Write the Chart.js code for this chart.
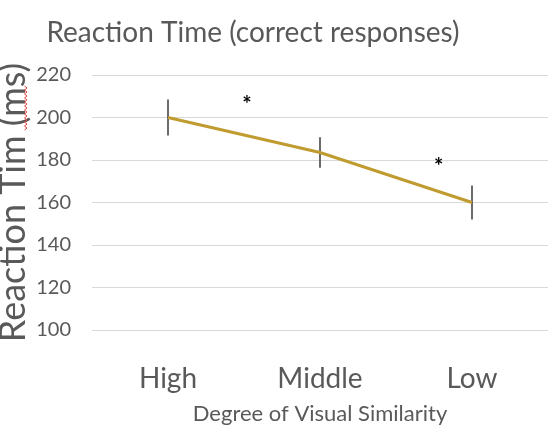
<!DOCTYPE html>
<html>
<head>
<meta charset="utf-8">
<script src="https://cdn.jsdelivr.net/npm/chart.js@4.4.1/dist/chart.umd.min.js"></script>
<style>
    html, body { margin: 0; padding: 0; background: #ffffff; }
    #wrap { width: 554px; height: 438px; }
</style>
</head>
<body>
<div id="wrap"><canvas id="rtChart"></canvas></div>
<script>
// data
const categories = ['High', 'Middle', 'Low'];
const meanRT = [200, 183.5, 160];
const errorRT = [8.5, 7.2, 8];
const starX = [0.52, 1.78];
const starY = [208.5, 179];
const chartTitle = 'Reaction Time (correct responses)';

const FONT = 'Lato, "Open Sans", sans-serif';
const GREY = '#595959';

// one small line dataset per error bar
const errorSets = categories.map((c, i) => ({
    label: 'err ' + c,
    data: [{ x: i, y: meanRT[i] - errorRT[i] }, { x: i, y: meanRT[i] + errorRT[i] }],
    borderColor: '#3a3a3a',
    borderWidth: 1.5,
    pointRadius: 0,
    showLine: true
}));

// title is drawn a bit left of centre like the original, plus the asterisks
const extrasPlugin = {
    id: 'extras',
    afterDatasetsDraw(chart) {
        const { ctx, scales } = chart;
        ctx.save();
        ctx.fillStyle = GREY;
        ctx.font = '28px ' + FONT;
        ctx.textAlign = 'center';
        ctx.textBaseline = 'middle';
        ctx.fillText(chartTitle, 253, 33);

        ctx.fillStyle = '#000000';
        ctx.font = 'bold 22px ' + FONT;
        starX.forEach((x, i) => {
            ctx.fillText('*', scales.x.getPixelForValue(x), scales.y.getPixelForValue(starY[i]) + 5);
        });

        // spell-check squiggle next to the axis title, as in the screenshot
        ctx.strokeStyle = '#e04040';
        ctx.lineWidth = 1;
        ctx.beginPath();
        for (let y = 86, k = 0; y <= 131; y += 2, k++) {
            const x = k % 2 ? 27 : 24.5;
            if (k === 0) ctx.moveTo(x, y); else ctx.lineTo(x, y);
        }
        ctx.stroke();
        ctx.restore();
    }
};

const ctx = document.getElementById('rtChart').getContext('2d');
const chart = new Chart(ctx, {
    type: 'scatter',
    data: {
        datasets: [
            {
                label: 'Reaction Time',
                data: categories.map((c, i) => ({ x: i, y: meanRT[i] })),
                borderColor: '#bf9b30',
                backgroundColor: '#bf9b30',
                borderWidth: 3,
                pointRadius: 0,
                showLine: true
            },
            ...errorSets
        ]
    },
    options: {
        responsive: true,
        maintainAspectRatio: false,
        animation: false,
        layout: { padding: { top: 75, right: 6, left: 0, bottom: 6 } },
        plugins: {
            legend: { display: false },
            tooltip: { enabled: false },
            title: { display: false }
        },
        scales: {
            x: {
                type: 'linear',
                min: -0.5,
                max: 2.5,
                grid: { display: false },
                border: { display: false },
                afterBuildTicks(scale) {
                    scale.ticks = categories.map((c, i) => ({ value: i }));
                },
                ticks: {
                    color: GREY,
                    padding: 24,
                    maxRotation: 0,
                    font: { family: FONT, size: 28 },
                    callback: v => categories[v]
                },
                title: {
                    display: true,
                    text: 'Degree of Visual Similarity',
                    color: GREY,
                    font: { family: FONT, size: 22 },
                    padding: { top: 5, bottom: 5 }
                },
                afterFit(scale) { scale.height = 102; }
            },
            y: {
                min: 100,
                max: 220,
                grid: { color: '#d9d9d9', drawTicks: false },
                border: { display: false },
                ticks: {
                    stepSize: 20,
                    color: GREY,
                    padding: 21,
                    font: { family: FONT, size: 20 }
                },
                title: {
                    display: true,
                    text: 'Reaction Tim (ms)',
                    color: GREY,
                    font: { family: FONT, size: 36 },
                    padding: { top: -8, bottom: 0 }
                },
                afterFit(scale) { scale.width = 92; }
            }
        }
    },
    plugins: [extrasPlugin]
});
</script>
</body>
</html>
